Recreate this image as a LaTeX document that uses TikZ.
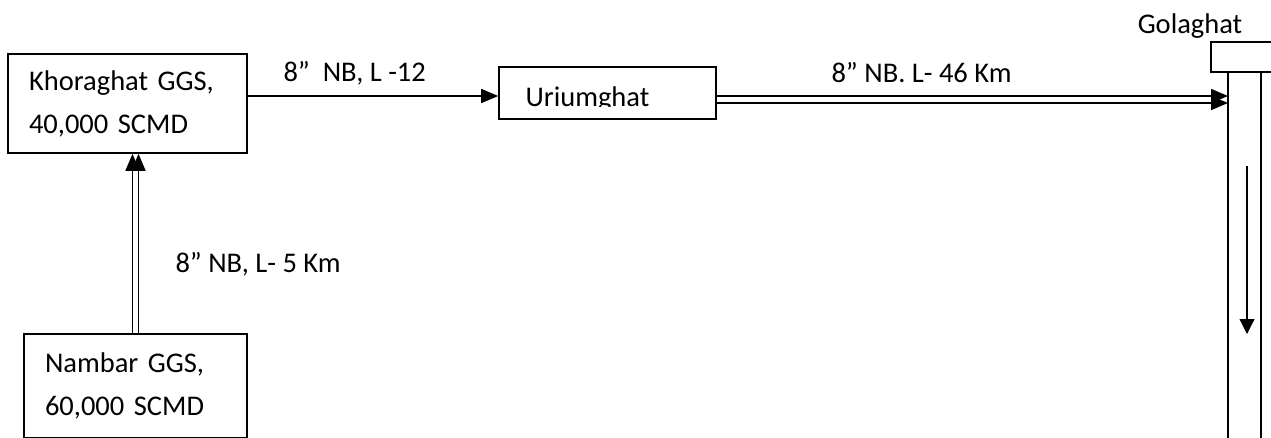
\documentclass[tikz,border=0pt]{standalone}
\usepackage{fontspec}
\setmainfont{Carlito}
\usetikzlibrary{arrows.meta}

\tikzset{
    station/.style={draw, line width=1.6pt, inner xsep=21pt, inner ysep=0pt, align=left},
    pipe/.style={line width=1.6pt},
}

\begin{document}
\begin{tikzpicture}[x=1pt, y=-1pt, >={Triangle[length=17pt,width=14pt]},
        font=\fontsize{28.5}{43}\selectfont]
    \useasboundingbox (0,0) rectangle (1271,437);

    \node[station, text width=197pt, minimum height=99pt] (khoraghat) at (127.5,103.5) {Khoraghat GGS,\\40,000 SCMD};
    \node[station, text width=181pt, minimum height=104pt] (nambar) at (135.5,386) {Nambar GGS,\\60,000 SCMD};
    \node[station, minimum width=217pt, minimum height=52pt] (uriumghat) at (607.5,93) {};
    \begin{scope}
        \clip (uriumghat.north west) rectangle ([yshift=-40pt]uriumghat.north east);
        \node[anchor=base west] (uriumghat-text) at (522,106) {Uriumghat};
    \end{scope}
    \node[station, minimum width=80pt, minimum height=30pt] (golaghat) at (1251,57) {};
    \node[anchor=base] (golaghat-text) at (1190,33) {Golaghat};

    % Golaghat pipe
    \coordinate (pipe-l) at (1228,72);
    \coordinate (pipe-r) at (1261,72);
    \draw[pipe] (pipe-l) -- ++(0,375);
    \draw[pipe] (pipe-r) -- ++(0,375);
    \coordinate (flow-top) at (1247,166);
    \coordinate (flow-end) at (1247,334);
    \draw[line width=1.1pt, ->, >={Triangle[length=15pt,width=15pt]}] (flow-top) -- (flow-end);

    \draw[pipe,->] (khoraghat.east |- 0,96) -- (uriumghat.west |- 0,96);
    \node[anchor=base west] (label-a) at (280,81) {8”\ \ NB, L -12};

    \foreach \dx in {-3,3}
        \draw[pipe,->] ([xshift=\dx pt]nambar.north) -- ([xshift=\dx pt]nambar.north |- khoraghat.south);
    \node[anchor=base west] (label-b) at (172,272) {8” NB, L- 5 Km};

    \foreach \y in {96,103}
        \draw[pipe,->] (uriumghat.east |- 0,\y) -- (pipe-l |- 0,\y);
    \node[anchor=base west] (label-c) at (828,82) {8” NB. L- 46 Km};
\end{tikzpicture}
\end{document}
